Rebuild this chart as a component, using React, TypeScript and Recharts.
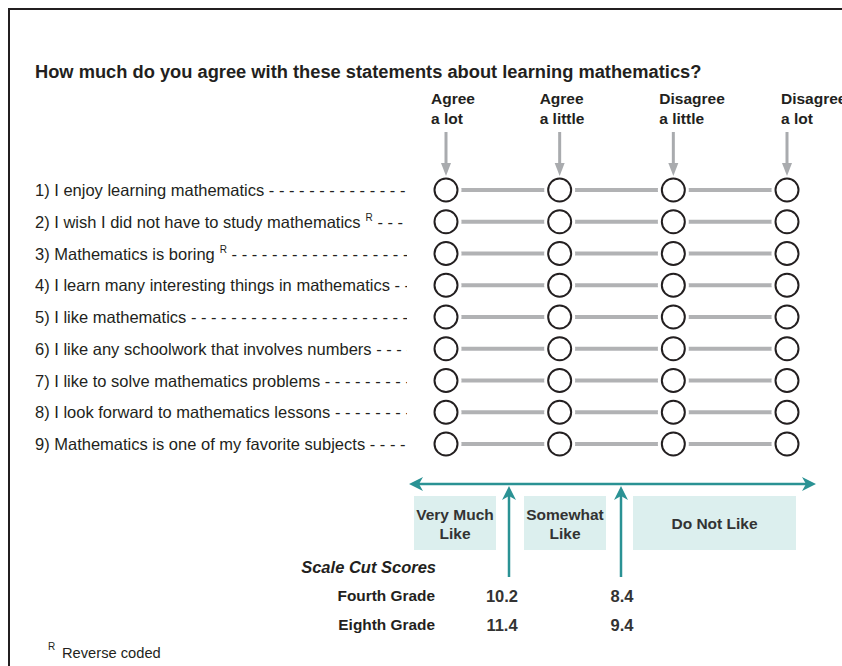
import React from 'react';
import { ScatterChart, Scatter, XAxis, YAxis } from 'recharts';

const TITLE = 'How much do you agree with these statements about learning mathematics?';

const RESPONSES = [
  ['Agree', 'a lot'],
  ['Agree', 'a little'],
  ['Disagree', 'a little'],
  ['Disagree', 'a lot'],
];

const STATEMENTS = [
  '1) I enjoy learning mathematics',
  '2) I wish I did not have to study mathematics',
  '3) Mathematics is boring',
  '4) I learn many interesting things in mathematics',
  '5) I like mathematics',
  '6) I like any schoolwork that involves numbers',
  '7) I like to solve mathematics problems',
  '8) I look forward to mathematics lessons',
  '9) Mathematics is one of my favorite subjects',
];

const REVERSE_CODED = [2, 3];

const CATEGORIES = [['Very Much', 'Like'], ['Somewhat', 'Like'], ['Do Not Like']];
const GRADES = ['Fourth Grade', 'Eighth Grade'];
const CUT_FOURTH = [10.2, 8.4];
const CUT_EIGHTH = [11.4, 9.4];

const FONT = '"Liberation Sans", Arial, sans-serif';
const INK = '#231f20';
const TEAL = '#2a9294';
const GRAY = '#b1b2b4';

// one series per statement, a point per response option
const rows = STATEMENTS.map((_, i) => RESPONSES.map((_, j) => ({ x: j, y: i + 1 })));

const HEADER_DX = [-15, -20, -14, -6];

const HeaderTick = (props: any) => {
  const { x, payload, index } = props;
  const lines = RESPONSES[payload.value] || [];
  const left = x + HEADER_DX[index ?? payload.value];
  return (
    <g>
      <text x={left} y={104} fontFamily={FONT} fontSize={15.5} fontWeight="bold" fill={INK}>
        {lines[0]}
      </text>
      <text x={left} y={124} fontFamily={FONT} fontSize={15.5} fontWeight="bold" fill={INK}>
        {lines[1]}
      </text>
      <line x1={x} x2={x} y1={132} y2={165} stroke="#a9abae" strokeWidth={3} />
      <path d={`M${x - 5},${163} L${x + 5},${163} L${x},${176} Z`} fill="#a9abae" />
    </g>
  );
};

const StatementTick = (props: any) => {
  const { y, payload } = props;
  const n = payload.value;
  const label = STATEMENTS[n - 1];
  if (!label) return null;
  const rev = REVERSE_CODED.includes(n);
  return (
    <g>
      <defs>
        <clipPath id={`stmt-clip-${n}`}>
          <rect x={0} y={y - 20} width={407} height={40} />
        </clipPath>
      </defs>
      <text
        x={35}
        y={y + 6}
        fontFamily={FONT}
        fontSize={16.5}
        fill={INK}
        clipPath={`url(#stmt-clip-${n})`}
      >
        {label}
        {rev ? (
          <>
            <tspan dx={5} dy={-7} fontSize={10}>R</tspan>
            <tspan dy={7}>{' -'.repeat(40)}</tspan>
          </>
        ) : (
          <tspan>{' -'.repeat(40)}</tspan>
        )}
      </text>
    </g>
  );
};

const Bubble = (props: any) => {
  const { cx, cy } = props;
  return (
    <g>
      <circle cx={cx} cy={cy} r={15.5} fill="#fff" />
      <circle cx={cx} cy={cy} r={11.5} fill="#fff" stroke={INK} strokeWidth={2} />
    </g>
  );
};

const arrowHead = (tx: number, ty: number, dir: 'left' | 'right' | 'up') => {
  if (dir === 'left')
    return `M${tx},${ty} L${tx + 14},${ty - 7} L${tx + 10},${ty} L${tx + 14},${ty + 7} Z`;
  if (dir === 'right')
    return `M${tx},${ty} L${tx - 14},${ty - 7} L${tx - 10},${ty} L${tx - 14},${ty + 7} Z`;
  return `M${tx},${ty} L${tx - 7},${ty + 14} L${tx},${ty + 10} L${tx + 7},${ty + 14} Z`;
};

const BOXES = [
  { x: 414, w: 82 },
  { x: 524, w: 82 },
  { x: 633, w: 163 },
];
const CUT_ARROW_X = [509, 621];
const CUT_TEXT_X = [502, 622];

const Overlay = () => (
  <svg
    width={842}
    height={666}
    style={{ position: 'absolute', left: 0, top: 0, pointerEvents: 'none' }}
  >
    <line x1={8} x2={842} y1={9} y2={9} stroke={INK} strokeWidth={2} />
    <line x1={9} x2={9} y1={8} y2={666} stroke={INK} strokeWidth={2} />
    <text x={35} y={78} fontFamily={FONT} fontSize={18.3} fontWeight="bold" fill={INK}>
      {TITLE}
    </text>

    {/* scale */}
    <line x1={414} x2={811} y1={484} y2={484} stroke={TEAL} strokeWidth={2.5} />
    <path d={arrowHead(409, 484, 'left')} fill={TEAL} />
    <path d={arrowHead(816, 484, 'right')} fill={TEAL} />
    {BOXES.map((b, i) => {
      const lines = CATEGORIES[i];
      const cx = b.x + b.w / 2;
      return (
        <g key={i}>
          <rect x={b.x} y={496} width={b.w} height={54} fill="#dcefee" />
          {lines.map((t, k) => (
            <text
              key={k}
              x={cx}
              y={lines.length === 1 ? 529 : 520 + k * 19}
              textAnchor="middle"
              fontFamily={FONT}
              fontSize={15.5}
              fontWeight="bold"
              fill="#333"
            >
              {t}
            </text>
          ))}
        </g>
      );
    })}
    {CUT_ARROW_X.map((x, i) => (
      <g key={i}>
        <line x1={x} x2={x} y1={491} y2={577} stroke={TEAL} strokeWidth={2.5} />
        <path d={arrowHead(x, 486, 'up')} fill={TEAL} />
      </g>
    ))}

    {/* cut scores */}
    <text
      x={436}
      y={573}
      textAnchor="end"
      fontFamily={FONT}
      fontSize={16.5}
      fontWeight="bold"
      fontStyle="italic"
      fill={INK}
    >
      Scale Cut Scores
    </text>
    {GRADES.map((g, i) => {
      const vals = i === 0 ? CUT_FOURTH : CUT_EIGHTH;
      const y = 601 + i * 29;
      return (
        <g key={g}>
          <text x={435} y={y} textAnchor="end" fontFamily={FONT} fontSize={15.4} fontWeight="bold" fill={INK}>
            {g}
          </text>
          {vals.map((v, k) => (
            <text
              key={k}
              x={CUT_TEXT_X[k]}
              y={y + 1}
              textAnchor="middle"
              fontFamily={FONT}
              fontSize={16.5}
              fontWeight="bold"
              fill="#333"
            >
              {v.toFixed(1)}
            </text>
          ))}
        </g>
      );
    })}

    <text x={48} y={650} fontFamily={FONT} fontSize={10} fill={INK}>R</text>
    <text x={62} y={658} fontFamily={FONT} fontSize={14.7} fill={INK}>Reverse coded</text>
  </svg>
);

export default function App() {
  return (
    <div style={{ position: 'absolute', left: 0, top: 0, width: 842, height: 666, background: '#fff' }}>
      <ScatterChart width={842} height={666} margin={{ top: 0, right: 55, bottom: 222, left: 0 }}>
        <XAxis
          type="number"
          dataKey="x"
          orientation="top"
          domain={[0, 3]}
          ticks={[0, 1, 2, 3]}
          height={190}
          axisLine={false}
          tickLine={false}
          tick={<HeaderTick />}
          interval={0}
        />
        <YAxis
          type="number"
          dataKey="y"
          domain={[1, 9]}
          ticks={[1, 2, 3, 4, 5, 6, 7, 8, 9]}
          reversed
          width={446}
          axisLine={false}
          tickLine={false}
          tick={<StatementTick />}
          interval={0}
        />
        {rows.map((row, i) => (
          <Scatter
            key={i}
            data={row}
            line={{ stroke: GRAY, strokeWidth: 4 }}
            shape={<Bubble />}
            isAnimationActive={false}
          />
        ))}
      </ScatterChart>
      <Overlay />
    </div>
  );
}
